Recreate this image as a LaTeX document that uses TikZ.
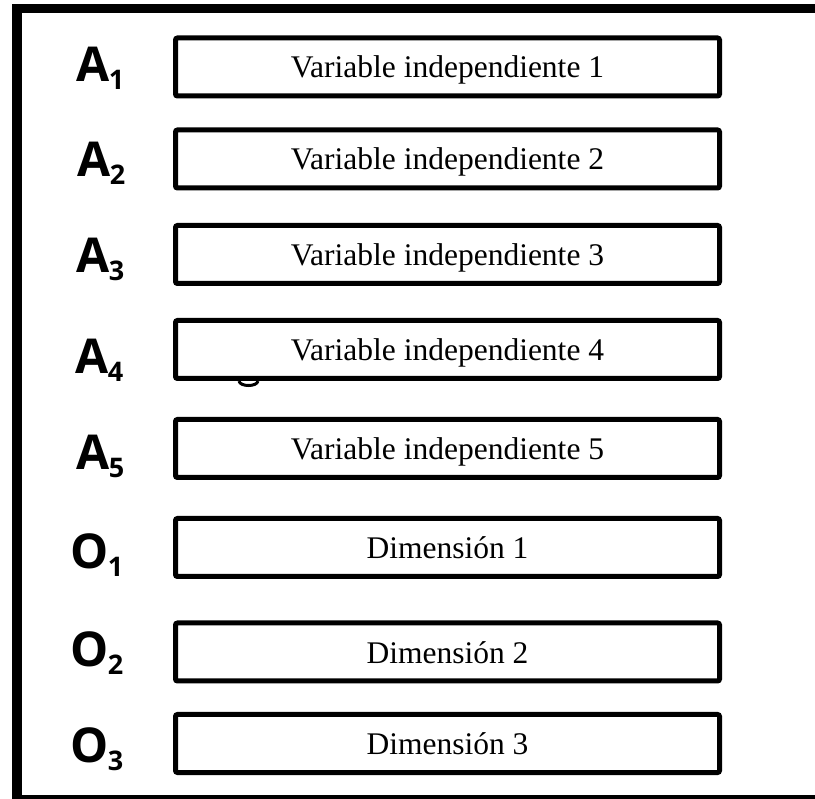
\documentclass[tikz,border=0pt]{standalone}
\usepackage{fontspec}
\setmainfont{Liberation Serif}
\newfontfamily\labfont{Open Sans}
\newcommand\lsub[1]{\kern-0.5pt\raisebox{-8pt}{\fontsize{27}{27}\selectfont #1}}
\tikzset{
  vbox/.style={draw=black, fill=white, line width=5pt, rounded corners=2pt,
    minimum width=544pt, minimum height=58pt, inner sep=0pt,
    text height=22pt, text depth=0pt, font=\fontsize{31.5}{31.5}\selectfont},
  lab/.style={anchor=base west, inner sep=0pt, font=\labfont\bfseries\fontsize{48}{48}\selectfont},
  frame/.style={line width=9.5pt}
}
\begin{document}
\begin{tikzpicture}[x=1pt,y=-1pt]
\useasboundingbox (0,0) rectangle (815,799);
\draw[frame] (830,8.5) -- (17,8.5) -- (17,799.5) -- (830,799.5);
% stray glyph bottom below box 4
\draw[line width=3pt] (239,381) .. controls (240,387) and (257,387) .. (258,381);
\node[vbox] (b1) at (447.5,67) {Variable independiente 1};
\node[vbox] (b2) at (447.5,159) {Variable independiente 2};
\node[vbox] (b3) at (447.5,254.5) {Variable independiente 3};
\node[vbox] (b4) at (447.5,349.5) {Variable independiente 4};
\node[vbox] (b5) at (447.5,448.5) {Variable independiente 5};
\node[vbox] (b6) at (447.5,547.5) {Dimensión 1};
\node[vbox] (b7) at (447.5,652) {Dimensión 2};
\node[vbox] (b8) at (447.5,743.5) {Dimensión 3};
\node[lab] (l1) at (76,82) {A\lsub{1}};
\node[lab] (l2) at (77,177) {A\lsub{2}};
\node[lab] (l3) at (76,273) {A\lsub{3}};
\node[lab] (l4) at (75,374) {A\lsub{4}};
\node[lab] (l5) at (76,470) {A\lsub{5}};
\node[lab] (l6) at (70,569) {O\lsub{1}};
\node[lab] (l7) at (70,667) {O\lsub{2}};
\node[lab] (l8) at (70,762) {O\lsub{3}};
\end{tikzpicture}
\end{document}
